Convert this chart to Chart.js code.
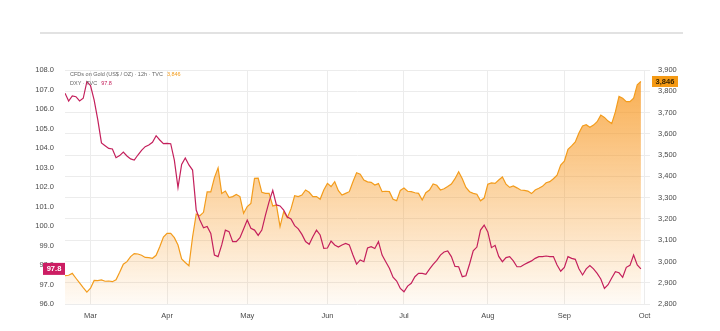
<!doctype html>
<html lang="en">
  <head>
    <meta charset="UTF-8" />
    <title>Gold vs DXY</title>
    <script src="https://cdn.jsdelivr.net/npm/chart.js"></script>
    <style>
      body,
      html {
        margin: 0;
        padding: 0;
        background: #ffffff;
      }
      .wrap {
        position: relative;
        width: 720px;
        height: 331px;
      }
      .top-rule {
        position: absolute;
        top: 32px;
        left: 40px;
        width: 643px;
        height: 2px;
        background: #e2e2e2;
      }
      #pane {
        position: absolute;
        left: 0;
        top: 0;
      }
    </style>
  </head>
  <body>
    <div class="wrap">
      <div class="top-rule"></div>
      <canvas id="pane" width="720" height="331"></canvas>
    </div>

    <script>
      // bar index of the first close; bar 0 is the first session of March
      const firstBar = -7;

      // month labels sit on the first trading bar of each month
      const monthTicks = [0, 21, 43, 65, 86, 109, 130, 152];
      const monthLabels = ["Mar", "Apr", "May", "Jun", "Jul", "Aug", "Sep", "Oct"];

      // CFDs on Gold (US$ / OZ), daily closes
      const goldClose = [
        2933, 2935, 2944, 2921, 2899, 2877, 2856, 2874, 2911, 2910,
        2913, 2907, 2908, 2905, 2914, 2949, 2987, 2999, 3023, 3037,
        3035, 3029, 3019, 3018, 3015, 3029, 3069, 3115, 3132, 3132,
        3112, 3077, 3012, 2995, 2980, 3115, 3223, 3215, 3231, 3327,
        3327, 3394, 3440, 3320, 3331, 3300, 3305, 3315, 3305, 3226,
        3258, 3273, 3391, 3392, 3325, 3320, 3320, 3261, 3265, 3164,
        3234, 3206, 3247, 3309, 3305, 3312, 3336, 3325, 3305, 3305,
        3292, 3336, 3367, 3352, 3375, 3333, 3312, 3320, 3328, 3375,
        3417, 3410, 3383, 3374, 3372, 3359, 3366, 3328, 3330, 3328,
        3292, 3286, 3334, 3345, 3330, 3328, 3323, 3320, 3289, 3323,
        3336, 3364, 3358, 3336, 3342, 3352, 3364, 3389, 3422, 3389,
        3348, 3328, 3320, 3316, 3285, 3298, 3363, 3369, 3367, 3383,
        3397, 3363, 3348, 3355, 3346, 3336, 3334, 3331, 3319, 3336,
        3344, 3353, 3370, 3375, 3389, 3406, 3453, 3471, 3527, 3543,
        3562, 3604, 3637, 3643, 3631, 3641, 3657, 3688, 3677, 3660,
        3648, 3703, 3776, 3767, 3751, 3751, 3767, 3830, 3846,
      ];

      // DXY, daily closes
      const dxyClose = [
        106.81, 106.41, 106.67, 106.63, 106.41, 106.55, 107.4, 107.2, 106.46, 105.44,
        104.26, 104.12, 103.98, 103.95, 103.5, 103.61, 103.79, 103.59, 103.44, 103.38,
        103.64, 103.88, 104.07, 104.15, 104.29, 104.63, 104.41, 104.22, 104.24, 104.22,
        103.38, 101.97, 103.16, 103.49, 103.13, 102.87, 100.82, 100.31, 99.91, 99.98,
        99.62, 98.51, 98.43, 99.03, 99.79, 99.71, 99.2, 99.2, 99.4, 99.85,
        100.31, 99.88, 99.79, 99.52, 99.79, 100.56, 101.25, 101.83, 101.08, 101.03,
        100.82, 100.46, 100.36, 100.02, 99.85, 99.57, 99.2, 99.06, 99.45, 99.79,
        99.54, 98.85, 98.87, 99.23, 99.03, 98.92, 99.03, 99.11, 99.03, 98.51,
        98.05, 98.26, 98.17, 98.87, 98.94, 98.85, 99.2, 98.51, 98.17, 97.83,
        97.37, 97.18, 96.8, 96.63, 96.92, 97.06, 97.4, 97.57, 97.57, 97.52,
        97.79, 98.03, 98.24, 98.51, 98.67, 98.72, 98.43, 97.93, 97.91, 97.4,
        97.45, 98.05, 98.73, 98.92, 99.79, 100.05, 99.7, 98.89, 99.01, 98.44,
        98.17, 98.38, 98.43, 98.21, 97.91, 97.91, 98.03, 98.12, 98.21, 98.34,
        98.43, 98.43, 98.46, 98.43, 98.43, 98.0, 97.68, 97.88, 98.43, 98.34,
        98.29, 97.81, 97.49, 97.8, 97.97, 97.8, 97.57, 97.28, 96.8, 96.99,
        97.33, 97.66, 97.6, 97.37, 97.88, 97.98, 98.51, 98.0, 97.8,
      ];

      const goldColor = "#f39c1c";
      const dxyColor = "#c4205c";
      const axisFont = { family: "'Liberation Sans', Arial, sans-serif", size: 7.5 };

      const toPoints = (values) => values.map((v, i) => ({ x: firstBar + i, y: v }));

      // last-value tags on the price scales plus the pane legend
      const priceTags = {
        id: "priceTags",
        afterDraw(chart) {
          const ctx = chart.ctx;
          const yL = chart.scales.yDxy;
          const yR = chart.scales.yGold;
          const lastDxy = dxyClose[dxyClose.length - 1];
          const lastGold = goldClose[goldClose.length - 1];

          ctx.save();
          ctx.font = "bold 7.5px 'Liberation Sans', Arial, sans-serif";
          ctx.textBaseline = "middle";

          // DXY tag on the left scale
          let y = yL.getPixelForValue(lastDxy);
          ctx.fillStyle = "#cc1d63";
          ctx.fillRect(43, y - 6, 22, 12);
          ctx.fillStyle = "#ffffff";
          ctx.textAlign = "center";
          ctx.fillText(lastDxy.toFixed(1), 54, y + 0.5);

          // gold tag on the right scale
          y = yR.getPixelForValue(lastGold);
          ctx.fillStyle = "#f59a14";
          ctx.fillRect(652, y - 5.5, 26, 11);
          ctx.fillStyle = "#3a2500";
          ctx.fillText(lastGold.toLocaleString("en-US"), 665, y + 0.5);

          // pane legend
          ctx.font = "5.5px 'Liberation Sans', Arial, sans-serif";
          ctx.textAlign = "left";
          const l1 = "CFDs on Gold (US$ / OZ) \u00b7 12h \u00b7 TVC";
          ctx.fillStyle = "#666666";
          ctx.fillText(l1, 70, 74);
          ctx.fillStyle = goldColor;
          ctx.fillText(lastGold.toLocaleString("en-US"), 70 + ctx.measureText(l1).width + 4, 74);
          const l2 = "DXY \u00b7 TVC";
          ctx.fillStyle = "#666666";
          ctx.fillText(l2, 70, 83);
          ctx.fillStyle = dxyColor;
          ctx.fillText(lastDxy.toFixed(1), 70 + ctx.measureText(l2).width + 4, 83);
          ctx.restore();
        },
      };

      new Chart(document.getElementById("pane"), {
        type: "line",
        data: {
          datasets: [
            {
              label: "DXY",
              data: toPoints(dxyClose),
              yAxisID: "yDxy",
              borderColor: dxyColor,
              borderWidth: 1.2,
              pointRadius: 0,
              tension: 0,
              fill: false,
              order: 0,
            },
            {
              label: "Gold",
              data: toPoints(goldClose),
              yAxisID: "yGold",
              borderColor: goldColor,
              borderWidth: 1.2,
              pointRadius: 0,
              tension: 0,
              fill: "start",
              backgroundColor: (c) => {
                const area = c.chart.chartArea;
                if (!area) return "rgba(247,150,30,0.3)";
                const g = c.chart.ctx.createLinearGradient(0, area.top, 0, area.bottom);
                g.addColorStop(0, "rgba(247,150,30,0.8)");
                g.addColorStop(1, "rgba(247,150,30,0.04)");
                return g;
              },
              order: 1,
            },
          ],
        },
        options: {
          responsive: false,
          animation: false,
          devicePixelRatio: 1,
          layout: { padding: { top: 70, left: 0, right: 0, bottom: 0 } },
          plugins: {
            legend: { display: false },
            tooltip: { enabled: false },
          },
          scales: {
            x: {
              type: "linear",
              min: -7,
              max: 153.5,
              afterBuildTicks: (s) => {
                s.ticks = monthTicks.map((v) => ({ value: v }));
              },
              afterFit: (s) => {
                s.height = 27;
              },
              ticks: {
                autoSkip: false,
                maxRotation: 0,
                padding: 7,
                color: "#4a4a4a",
                font: axisFont,
                callback: (v) => monthLabels[monthTicks.indexOf(v)],
              },
              grid: { color: "#ececec", drawTicks: false },
              border: { display: false },
            },
            yDxy: {
              position: "left",
              min: 96,
              max: 108,
              afterFit: (s) => {
                s.width = 65;
              },
              ticks: {
                stepSize: 1,
                padding: 3,
                color: "#4a4a4a",
                font: axisFont,
                callback: (v) => v.toFixed(1),
              },
              grid: { display: false },
              border: { display: false },
            },
            yGold: {
              position: "right",
              min: 2800,
              max: 3900,
              afterFit: (s) => {
                s.width = 70;
              },
              ticks: {
                stepSize: 100,
                padding: 8,
                color: "#4a4a4a",
                font: axisFont,
                callback: (v) => v.toLocaleString("en-US"),
              },
              grid: { color: "#ececec", drawTicks: false },
              border: { display: false },
            },
          },
        },
        plugins: [priceTags],
      });
    </script>
  </body>
</html>
